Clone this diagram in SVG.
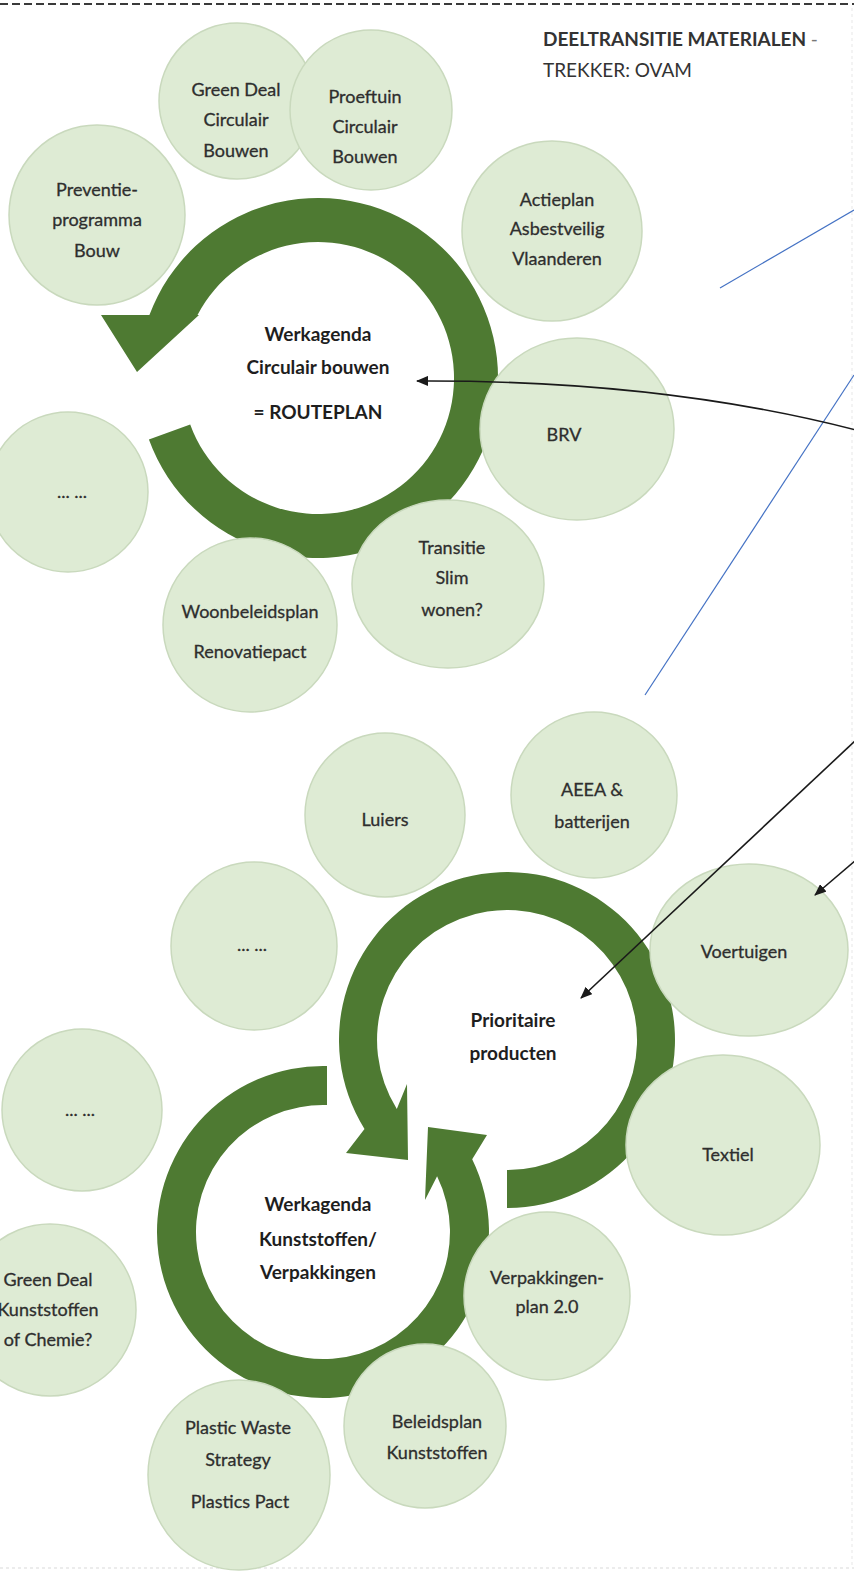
<svg xmlns="http://www.w3.org/2000/svg" width="854" height="1573" viewBox="0 0 854 1573">
<defs>
<style>
.c{fill:#deebd4;stroke:#c9d9bd;stroke-width:1.5}
.r{fill:#4e7a32}
.t{font-family:Lato,"Liberation Sans",sans-serif;font-size:18px;fill:#2e2e2e;stroke:#2e2e2e;stroke-width:0.3;text-anchor:middle}
.b{font-family:Lato,"Liberation Sans",sans-serif;font-size:19px;font-weight:bold;fill:#1e1e1e;text-anchor:middle}
.h{font-family:Lato,"Liberation Sans",sans-serif;font-size:19px;fill:#333}
.bl{stroke:#4472c4;stroke-width:1.2;fill:none}
.ar{stroke:#1a1a1a;stroke-width:1.6;fill:none;marker-end:url(#ah)}
</style>
<marker id="ah" viewBox="0 0 12 10" refX="11" refY="5" markerWidth="12" markerHeight="10" markerUnits="userSpaceOnUse" orient="auto"><path d="M0,0 L12,5 L0,10 Z" fill="#1a1a1a"/></marker>
</defs>
<rect width="854" height="1573" fill="#fff"/>
<line x1="0" y1="4" x2="854" y2="4" stroke="#3a3a3a" stroke-width="2.2" stroke-dasharray="8,4"/>
<line x1="0" y1="1568" x2="854" y2="1568" stroke="#e6e6e6" stroke-width="1.5" stroke-dasharray="3,3"/>
<line x1="852" y1="8" x2="852" y2="1568" stroke="#f0f0f0" stroke-width="1.5" stroke-dasharray="3,3"/>
<g id="header">
<text class="h" x="543" y="46" font-weight="bold" fill="#1e1e1e">DEELTRANSITIE MATERIALEN <tspan font-weight="normal" fill="#777">-</tspan></text>
<text class="h" x="543" y="77">TREKKER: OVAM</text>
</g>
<g id="rings">
<path id="ring-circulair" class="r" d="M148.9 439.6 A180 180 0 1 0 149.4 315 L101 315 L137 372 L199 315 L197.5 315 A136 136 0 1 1 190.2 424.5 Z"/>
<path id="ring-prioritair" class="r" d="M507 1208 A168 168 0 1 0 364.5 1129 L346 1153 L408 1160 L407 1084 L396.8 1108.9 A130 130 0 1 1 507 1170 Z"/>
<path id="ring-kunststof" class="r" d="M327 1066 A166 166 0 1 0 472.2 1159.2 L487 1135 L428 1127 L425 1200 L437.1 1176.3 A127 127 0 1 1 327 1105.1 Z"/>
</g>
<g id="n-greendeal-bouw"><ellipse class="c" cx="237" cy="101" rx="78" ry="78"/><text class="t" x="236" y="96">Green Deal</text><text class="t" x="236" y="126">Circulair</text><text class="t" x="236" y="157">Bouwen</text></g>
<g id="n-proeftuin"><ellipse class="c" cx="371" cy="110" rx="81" ry="80"/><text class="t" x="365" y="103">Proeftuin</text><text class="t" x="365" y="133">Circulair</text><text class="t" x="365" y="163">Bouwen</text></g>
<g id="n-preventie"><ellipse class="c" cx="97" cy="215" rx="88" ry="90"/><text class="t" x="97" y="196">Preventie-</text><text class="t" x="97" y="226">programma</text><text class="t" x="97" y="257">Bouw</text></g>
<g id="n-actieplan"><ellipse class="c" cx="552" cy="231" rx="90" ry="90"/><text class="t" x="557" y="206">Actieplan</text><text class="t" x="557" y="235">Asbestveilig</text><text class="t" x="557" y="265">Vlaanderen</text></g>
<g id="n-brv"><ellipse class="c" cx="577" cy="429" rx="97" ry="91"/><text class="t" x="564" y="441">BRV</text></g>
<g id="n-dots1"><ellipse class="c" cx="68" cy="492" rx="80" ry="80"/><text class="t" x="72" y="498">... ...</text></g>
<g id="n-woonbeleid"><ellipse class="c" cx="250" cy="625" rx="87" ry="87"/><text class="t" x="250" y="618">Woonbeleidsplan</text><text class="t" x="250" y="658">Renovatiepact</text></g>
<g id="n-transitie"><ellipse class="c" cx="448" cy="584" rx="96" ry="84"/><text class="t" x="452" y="554">Transitie</text><text class="t" x="452" y="584">Slim</text><text class="t" x="452" y="616">wonen?</text></g>
<g id="n-werkagenda-bouw"><text class="b" x="318" y="341">Werkagenda</text><text class="b" x="318" y="374">Circulair bouwen</text><text class="b" x="318" y="419">= ROUTEPLAN</text></g>
<g id="n-luiers"><ellipse class="c" cx="385" cy="815" rx="80" ry="82"/><text class="t" x="385" y="826">Luiers</text></g>
<g id="n-aeea"><ellipse class="c" cx="594" cy="795" rx="83" ry="83"/><text class="t" x="592" y="796">AEEA &amp;</text><text class="t" x="592" y="828">batterijen</text></g>
<g id="n-dots2"><ellipse class="c" cx="254" cy="946" rx="83" ry="84"/><text class="t" x="252" y="951">... ...</text></g>
<g id="n-voertuigen"><ellipse class="c" cx="749" cy="950" rx="99" ry="86"/><text class="t" x="744" y="958">Voertuigen</text></g>
<g id="n-prioritair"><text class="b" x="513" y="1027">Prioritaire</text><text class="b" x="513" y="1060">producten</text></g>
<g id="n-dots3"><ellipse class="c" cx="82" cy="1110" rx="80" ry="81"/><text class="t" x="80" y="1116">... ...</text></g>
<g id="n-textiel"><ellipse class="c" cx="723" cy="1145" rx="97" ry="90"/><text class="t" x="728" y="1161">Textiel</text></g>
<g id="n-greendeal-kunst"><ellipse class="c" cx="50" cy="1310" rx="86" ry="86"/><text class="t" x="48" y="1286">Green Deal</text><text class="t" x="48" y="1316">Kunststoffen</text><text class="t" x="48" y="1346">of Chemie?</text></g>
<g id="n-verpakkingenplan"><ellipse class="c" cx="547" cy="1296" rx="83" ry="84"/><text class="t" x="547" y="1284">Verpakkingen-</text><text class="t" x="547" y="1313">plan 2.0</text></g>
<g id="n-plasticwaste"><ellipse class="c" cx="239" cy="1475" rx="91" ry="95"/><text class="t" x="238" y="1434">Plastic Waste</text><text class="t" x="238" y="1466">Strategy</text><text class="t" x="240" y="1508">Plastics Pact</text></g>
<g id="n-beleidsplan"><ellipse class="c" cx="425" cy="1426" rx="81" ry="82"/><text class="t" x="437" y="1428">Beleidsplan</text><text class="t" x="437" y="1459">Kunststoffen</text></g>
<g id="n-werkagenda-kunst"><text class="b" x="318" y="1211">Werkagenda</text><text class="b" x="318" y="1246">Kunststoffen/</text><text class="b" x="318" y="1279">Verpakkingen</text></g>
<g id="connectors">
<line class="bl" x1="720" y1="288" x2="854" y2="210"/>
<line class="bl" x1="645" y1="695" x2="854" y2="375"/>
<path class="ar" d="M856 430 C740 400 600 380 417 381"/>
<line class="ar" x1="856" y1="740" x2="581" y2="998"/>
<line class="ar" x1="856" y1="860" x2="815" y2="895"/>
</g>
</svg>
